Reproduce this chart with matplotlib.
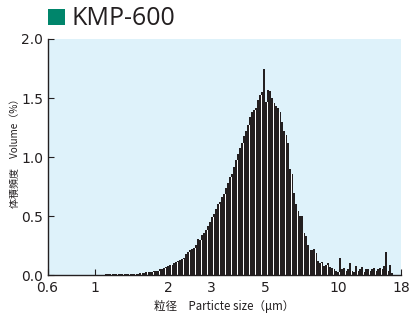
import numpy as np
import matplotlib
matplotlib.use("Agg")
import matplotlib.pyplot as plt
from matplotlib.patches import Rectangle

plt.rcParams['font.family'] = ['Liberation Sans Narrow', 'DejaVu Sans']

title = "KMP-600"
x_label = "粒径　Particte size（μm）"
y_label = "体積頻度　Volume（%）"

# Particle-size channels (log-spaced bins) and volume frequency (%)
size_min = 1.1
size_max = 16.7
volume = [
    0.008, 0.008, 0.008, 0.008, 0.008, 0.010, 0.010, 0.010, 0.010, 0.010,
    0.015, 0.015, 0.015, 0.015, 0.015, 0.015, 0.015, 0.020, 0.020, 0.020,
    0.030, 0.030, 0.030, 0.030, 0.040, 0.040, 0.040, 0.055, 0.055, 0.060,
    0.070, 0.080, 0.085, 0.090, 0.100, 0.110, 0.120, 0.130, 0.140, 0.150,
    0.180, 0.200, 0.210, 0.220, 0.230, 0.260, 0.310, 0.300, 0.340, 0.360,
    0.380, 0.420, 0.450, 0.490, 0.520, 0.560, 0.600, 0.620, 0.660, 0.690,
    0.740, 0.780, 0.830, 0.860, 0.920, 0.980, 1.030, 1.080, 1.120, 1.180,
    1.220, 1.270, 1.340, 1.380, 1.400, 1.420, 1.480, 1.530, 1.550, 1.750,
    1.470, 1.570, 1.560, 1.500, 1.460, 1.430, 1.420, 1.380, 1.300, 1.220,
    1.190, 1.120, 0.900, 0.860, 0.700, 0.600, 0.540, 0.500, 0.500, 0.360,
    0.330, 0.260, 0.210, 0.210, 0.220, 0.190, 0.120, 0.100, 0.110, 0.080,
    0.090, 0.100, 0.070, 0.060, 0.050, 0.040, 0.030, 0.150, 0.050, 0.060,
    0.040, 0.050, 0.100, 0.040, 0.030, 0.080, 0.040, 0.050, 0.070, 0.030,
    0.050, 0.050, 0.040, 0.050, 0.060, 0.040, 0.050, 0.060, 0.050, 0.080,
    0.200, 0.040, 0.090, 0.020,
]

x_min = 0.64
x_max = 18
x_ticks = [x_min, 1, 2, 3, 5, 10, 18]
x_tick_labels = ["0.6", "1", "2", "3", "5", "10", "18"]
y_ticks = [0.0, 0.5, 1.0, 1.5, 2.0]
y_tick_labels = ["0.0", "0.5", "1.0", "1.5", "2.0"]

bar_color = "#231f20"
bg_color = "#def2fa"
teal = "#00856b"
text_color = "#231f20"

edges = np.geomspace(size_min, size_max, len(volume) + 1)
vol = np.asarray(volume)

fig = plt.figure(figsize=(4.09, 3.2), dpi=100)
ax = fig.add_axes([47.5 / 409, 1 - 275.3 / 320, (401 - 47.5) / 409, (275.3 - 39) / 320])
ax.set_facecolor(bg_color)

ax.bar(edges[:-1], vol, width=np.diff(edges), align="edge",
       color=bar_color, linewidth=0, antialiased=False)

# thin white separators between channels (every third channel boundary)
sep_idx = np.arange(3, len(vol), 3)
sep_top = np.minimum(vol[sep_idx - 1], vol[sep_idx])
ax.vlines(edges[sep_idx], 0, sep_top, colors="white", linewidth=0.72,
          antialiased=False)

ax.set_xscale("log")
ax.set_xlim(x_min, x_max)
ax.set_ylim(0, 2.0)
ax.set_xticks(x_ticks)
ax.set_xticklabels(x_tick_labels)
ax.xaxis.set_minor_locator(matplotlib.ticker.NullLocator())
ax.set_yticks(y_ticks)
ax.set_yticklabels(y_tick_labels)

for s in ["top", "right"]:
    ax.spines[s].set_visible(False)
for s in ["left", "bottom"]:
    ax.spines[s].set_color(text_color)
    ax.spines[s].set_linewidth(1.0)
    ax.spines[s].set_zorder(3)

ax.tick_params(axis="both", direction="in", length=4, width=0.8, color=text_color,
               labelsize=10, labelcolor=text_color)
ax.tick_params(axis="x", pad=4)
ax.tick_params(axis="y", pad=3)

lab_family = ["Liberation Sans Narrow", "Noto Sans CJK JP", "DejaVu Sans"]
ax.set_xlabel(x_label, fontsize=8.3, color=text_color, family=lab_family)
ax.set_ylabel(y_label, fontsize=7.2, color=text_color, family=lab_family)
ax.xaxis.set_label_coords(0.5, -0.102)
ax.yaxis.set_label_coords(-0.078, 0.526)

fig.add_artist(Rectangle((48 / 409, 1 - 25 / 320), 17 / 409, 16 / 320,
                         transform=fig.transFigure, color=teal, linewidth=0))
fig.text(71 / 409, 1 - 25 / 320, title, fontsize=18, color=text_color,
         family=["Open Sans", "DejaVu Sans"], ha="left", va="baseline")

fig.savefig("out.png", dpi=100, facecolor="white")
